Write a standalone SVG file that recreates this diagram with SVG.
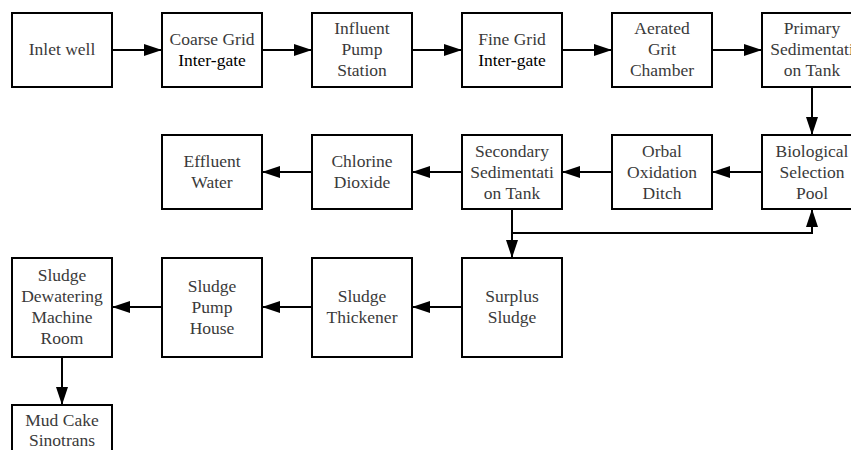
<svg xmlns="http://www.w3.org/2000/svg" width="851" height="450" viewBox="0 0 851 450">
<style>
.box{fill:#fff;stroke:#000;stroke-width:2}
text{font-family:'Liberation Serif','Times New Roman','DejaVu Serif',serif;font-size:17.5px;fill:#3a3a3a;text-anchor:middle}
.k{fill:#000}
.c{fill:none;stroke:#000;stroke-width:2}
</style>
<defs>
<marker id="ah" viewBox="0 0 18 12" refX="18" refY="6" markerWidth="18" markerHeight="12" markerUnits="userSpaceOnUse" orient="auto">
<path d="M0,0 L18,6 L0,12 Z" fill="#000"/>
</marker>
</defs>
<rect width="851" height="450" fill="#fff"/>
<g id="connectors">
<path class="c" d="M112,50 H162" marker-end="url(#ah)"/>
<path class="c" d="M262,50 H312" marker-end="url(#ah)"/>
<path class="c" d="M412,50 H462" marker-end="url(#ah)"/>
<path class="c" d="M562,50 H612" marker-end="url(#ah)"/>
<path class="c" d="M712,50 H762" marker-end="url(#ah)"/>
<path class="c" d="M812,87 V135" marker-end="url(#ah)"/>
<path class="c" d="M762,172 H712" marker-end="url(#ah)"/>
<path class="c" d="M612,172 H562" marker-end="url(#ah)"/>
<path class="c" d="M462,172 H412" marker-end="url(#ah)"/>
<path class="c" d="M312,172 H262" marker-end="url(#ah)"/>
<path class="c" d="M512,209 V258" marker-end="url(#ah)"/>
<path class="c" d="M512,233 H812 V209" marker-end="url(#ah)"/>
<path class="c" d="M462,307 H412" marker-end="url(#ah)"/>
<path class="c" d="M312,307 H262" marker-end="url(#ah)"/>
<path class="c" d="M162,307 H112" marker-end="url(#ah)"/>
<path class="c" d="M62,357 V405" marker-end="url(#ah)"/>
</g>
<g id="inlet-well"><rect class="box" x="12" y="13" width="100" height="74"/><text x="62" y="55">Inlet well</text></g>
<g id="coarse-grid"><rect class="box" x="162" y="13" width="100" height="74"/><text x="212" y="45">Coarse Grid</text><text class="k" x="212" y="66">Inter-gate</text></g>
<g id="influent-pump"><rect class="box" x="312" y="13" width="100" height="74"/><text x="362" y="34">Influent</text><text x="362" y="55">Pump</text><text x="362" y="76">Station</text></g>
<g id="fine-grid"><rect class="box" x="462" y="13" width="100" height="74"/><text x="512" y="45">Fine Grid</text><text class="k" x="512" y="66">Inter-gate</text></g>
<g id="grit-chamber"><rect class="box" x="612" y="13" width="100" height="74"/><text x="662" y="34">Aerated</text><text x="662" y="55">Grit</text><text x="662" y="76">Chamber</text></g>
<g id="primary-sed"><rect class="box" x="762" y="13" width="100" height="74"/><text x="812" y="34">Primary</text><text x="812" y="55">Sedimentati</text><text x="812" y="76">on Tank</text></g>
<g id="effluent"><rect class="box" x="162" y="135" width="100" height="74"/><text x="212" y="167">Effluent</text><text x="212" y="188">Water</text></g>
<g id="chlorine"><rect class="box" x="312" y="135" width="100" height="74"/><text x="362" y="167">Chlorine</text><text x="362" y="188">Dioxide</text></g>
<g id="secondary-sed"><rect class="box" x="462" y="135" width="100" height="74"/><text x="512" y="157">Secondary</text><text x="512" y="178">Sedimentati</text><text x="512" y="199">on Tank</text></g>
<g id="orbal"><rect class="box" x="612" y="135" width="100" height="74"/><text x="662" y="157">Orbal</text><text x="662" y="178">Oxidation</text><text x="662" y="199">Ditch</text></g>
<g id="bio-selection"><rect class="box" x="762" y="135" width="100" height="74"/><text x="812" y="157">Biological</text><text x="812" y="178">Selection</text><text x="812" y="199">Pool</text></g>
<g id="dewatering"><rect class="box" x="12" y="258" width="100" height="99"/><text x="62" y="281">Sludge</text><text x="62" y="302">Dewatering</text><text x="62" y="323">Machine</text><text x="62" y="344">Room</text></g>
<g id="sludge-pump"><rect class="box" x="162" y="258" width="100" height="99"/><text x="212" y="292">Sludge</text><text x="212" y="313">Pump</text><text x="212" y="334">House</text></g>
<g id="thickener"><rect class="box" x="312" y="258" width="100" height="99"/><text x="362" y="302">Sludge</text><text x="362" y="323">Thickener</text></g>
<g id="surplus"><rect class="box" x="462" y="258" width="100" height="99"/><text x="512" y="302">Surplus</text><text x="512" y="323">Sludge</text></g>
<g id="mud-cake"><rect class="box" x="12" y="405" width="100" height="60"/><text x="62" y="426">Mud Cake</text><text x="62" y="446">Sinotrans</text></g>
</svg>
